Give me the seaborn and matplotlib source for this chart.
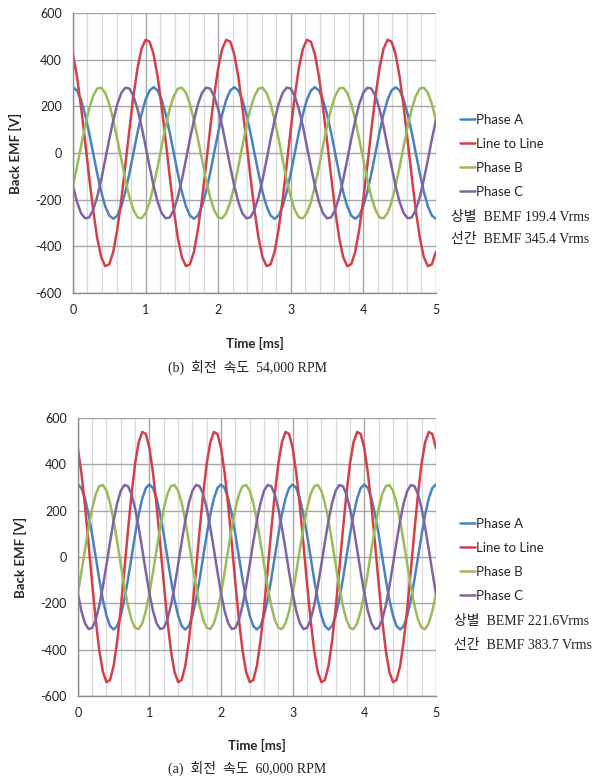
import matplotlib

matplotlib.use("Agg")
import matplotlib.pyplot as plt
import pandas as pd
import seaborn as sns
from matplotlib.ticker import MultipleLocator

# ─────────────────────────────────────────────
# Data
# ─────────────────────────────────────────────

series_names = ["Phase A", "Line to Line", "Phase B", "Phase C"]
series_colors = ["#4a82c0", "#d2404a", "#9bbb59", "#8064a2"]

# (b) 54,000 RPM, sampled every 1/18 ms
time_54k = [
    0.000, 0.056, 0.111, 0.167, 0.222, 0.278, 0.333, 0.389, 0.444, 0.500,
    0.556, 0.611, 0.667, 0.722, 0.778, 0.833, 0.889, 0.944,
    1.000, 1.056, 1.111, 1.167, 1.222, 1.278, 1.333, 1.389, 1.444, 1.500,
    1.556, 1.611, 1.667, 1.722, 1.778, 1.833, 1.889, 1.944,
    2.000, 2.056, 2.111, 2.167, 2.222, 2.278, 2.333, 2.389, 2.444, 2.500,
    2.556, 2.611, 2.667, 2.722, 2.778, 2.833, 2.889, 2.944,
    3.000, 3.056, 3.111, 3.167, 3.222, 3.278, 3.333, 3.389, 3.444, 3.500,
    3.556, 3.611, 3.667, 3.722, 3.778, 3.833, 3.889, 3.944,
    4.000, 4.056, 4.111, 4.167, 4.222, 4.278, 4.333, 4.389, 4.444, 4.500,
    4.556, 4.611, 4.667, 4.722, 4.778, 4.833, 4.889, 4.944,
    5.000,
]
phase_a_54k = [
    282, 268, 228, 166, 87, 0, -87, -166, -228, -268,
    -282, -268, -228, -166, -87, 0, 87, 166, 228, 268,
    282, 268, 228, 166, 87, 0, -87, -166, -228, -268,
    -282, -268, -228, -166, -87, 0, 87, 166, 228, 268,
    282, 268, 228, 166, 87, 0, -87, -166, -228, -268,
    -282, -268, -228, -166, -87, 0, 87, 166, 228, 268,
    282, 268, 228, 166, 87, 0, -87, -166, -228, -268,
    -282, -268, -228, -166, -87, 0, 87, 166, 228, 268,
    282, 268, 228, 166, 87, 0, -87, -166, -228, -268,
    -282,
]
line_54k = [
    423, 327, 198, 51, -101, -244, -363, -446, -485, -477,
    -423, -327, -198, -51, 101, 244, 363, 446, 485, 477,
    423, 327, 198, 51, -101, -244, -363, -446, -485, -477,
    -423, -327, -198, -51, 101, 244, 363, 446, 485, 477,
    423, 327, 198, 51, -101, -244, -363, -446, -485, -477,
    -423, -327, -198, -51, 101, 244, 363, 446, 485, 477,
    423, 327, 198, 51, -101, -244, -363, -446, -485, -477,
    -423, -327, -198, -51, 101, 244, 363, 446, 485, 477,
    423, 327, 198, 51, -101, -244, -363, -446, -485, -477,
    -423,
]
phase_b_54k = [
    -141, -59, 29, 115, 189, 244, 276, 280, 258, 210,
    141, 59, -29, -115, -189, -244, -276, -280, -258, -210,
    -141, -59, 29, 115, 189, 244, 276, 280, 258, 210,
    141, 59, -29, -115, -189, -244, -276, -280, -258, -210,
    -141, -59, 29, 115, 189, 244, 276, 280, 258, 210,
    141, 59, -29, -115, -189, -244, -276, -280, -258, -210,
    -141, -59, 29, 115, 189, 244, 276, 280, 258, 210,
    141, 59, -29, -115, -189, -244, -276, -280, -258, -210,
    -141, -59, 29, 115, 189, 244, 276, 280, 258, 210,
    141,
]
phase_c_54k = [
    -141, -210, -258, -280, -276, -244, -189, -115, -29, 59,
    141, 210, 258, 280, 276, 244, 189, 115, 29, -59,
    -141, -210, -258, -280, -276, -244, -189, -115, -29, 59,
    141, 210, 258, 280, 276, 244, 189, 115, 29, -59,
    -141, -210, -258, -280, -276, -244, -189, -115, -29, 59,
    141, 210, 258, 280, 276, 244, 189, 115, 29, -59,
    -141, -210, -258, -280, -276, -244, -189, -115, -29, 59,
    141, 210, 258, 280, 276, 244, 189, 115, 29, -59,
    -141, -210, -258, -280, -276, -244, -189, -115, -29, 59,
    141,
]

# (a) 60,000 RPM, sampled every 0.05 ms
time_60k = [
    0.00, 0.05, 0.10, 0.15, 0.20, 0.25, 0.30, 0.35, 0.40, 0.45,
    0.50, 0.55, 0.60, 0.65, 0.70, 0.75, 0.80, 0.85, 0.90, 0.95,
    1.00, 1.05, 1.10, 1.15, 1.20, 1.25, 1.30, 1.35, 1.40, 1.45,
    1.50, 1.55, 1.60, 1.65, 1.70, 1.75, 1.80, 1.85, 1.90, 1.95,
    2.00, 2.05, 2.10, 2.15, 2.20, 2.25, 2.30, 2.35, 2.40, 2.45,
    2.50, 2.55, 2.60, 2.65, 2.70, 2.75, 2.80, 2.85, 2.90, 2.95,
    3.00, 3.05, 3.10, 3.15, 3.20, 3.25, 3.30, 3.35, 3.40, 3.45,
    3.50, 3.55, 3.60, 3.65, 3.70, 3.75, 3.80, 3.85, 3.90, 3.95,
    4.00, 4.05, 4.10, 4.15, 4.20, 4.25, 4.30, 4.35, 4.40, 4.45,
    4.50, 4.55, 4.60, 4.65, 4.70, 4.75, 4.80, 4.85, 4.90, 4.95,
    5.00,
]
phase_a_60k = [
    313, 298, 253, 184, 97, 0, -97, -184, -253, -298,
    -313, -298, -253, -184, -97, 0, 97, 184, 253, 298,
    313, 298, 253, 184, 97, 0, -97, -184, -253, -298,
    -313, -298, -253, -184, -97, 0, 97, 184, 253, 298,
    313, 298, 253, 184, 97, 0, -97, -184, -253, -298,
    -313, -298, -253, -184, -97, 0, 97, 184, 253, 298,
    313, 298, 253, 184, 97, 0, -97, -184, -253, -298,
    -313, -298, -253, -184, -97, 0, 97, 184, 253, 298,
    313, 298, 253, 184, 97, 0, -97, -184, -253, -298,
    -313, -298, -253, -184, -97, 0, 97, 184, 253, 298,
    313,
]
line_60k = [
    470, 363, 221, 57, -113, -272, -404, -496, -540, -531,
    -470, -363, -221, -57, 113, 272, 404, 496, 540, 531,
    470, 363, 221, 57, -113, -272, -404, -496, -540, -531,
    -470, -363, -221, -57, 113, 272, 404, 496, 540, 531,
    470, 363, 221, 57, -113, -272, -404, -496, -540, -531,
    -470, -363, -221, -57, 113, 272, 404, 496, 540, 531,
    470, 363, 221, 57, -113, -272, -404, -496, -540, -531,
    -470, -363, -221, -57, 113, 272, 404, 496, 540, 531,
    470, 363, 221, 57, -113, -272, -404, -496, -540, -531,
    -470, -363, -221, -57, 113, 272, 404, 496, 540, 531,
    470,
]
phase_b_60k = [
    -157, -65, 33, 127, 209, 271, 306, 311, 286, 233,
    157, 65, -33, -127, -209, -271, -306, -311, -286, -233,
    -157, -65, 33, 127, 209, 271, 306, 311, 286, 233,
    157, 65, -33, -127, -209, -271, -306, -311, -286, -233,
    -157, -65, 33, 127, 209, 271, 306, 311, 286, 233,
    157, 65, -33, -127, -209, -271, -306, -311, -286, -233,
    -157, -65, 33, 127, 209, 271, 306, 311, 286, 233,
    157, 65, -33, -127, -209, -271, -306, -311, -286, -233,
    -157, -65, 33, 127, 209, 271, 306, 311, 286, 233,
    157, 65, -33, -127, -209, -271, -306, -311, -286, -233,
    -157,
]
phase_c_60k = [
    -157, -233, -286, -311, -306, -271, -209, -127, -33, 65,
    157, 233, 286, 311, 306, 271, 209, 127, 33, -65,
    -157, -233, -286, -311, -306, -271, -209, -127, -33, 65,
    157, 233, 286, 311, 306, 271, 209, 127, 33, -65,
    -157, -233, -286, -311, -306, -271, -209, -127, -33, 65,
    157, 233, 286, 311, 306, 271, 209, 127, 33, -65,
    -157, -233, -286, -311, -306, -271, -209, -127, -33, 65,
    157, 233, 286, 311, 306, 271, 209, 127, 33, -65,
    -157, -233, -286, -311, -306, -271, -209, -127, -33, 65,
    157, 233, 286, 311, 306, 271, 209, 127, 33, -65,
    -157,
]

note_lines_54k = ["상별  BEMF 199.4 Vrms", "선간  BEMF 345.4 Vrms"]
note_lines_60k = ["상별  BEMF 221.6Vrms", "선간  BEMF 383.7 Vrms"]
caption_54k = "(b)  회전  속도  54,000 RPM"
caption_60k = "(a)  회전  속도  60,000 RPM"


def to_long(time, a, line, b, c):
    frames = []
    for name, vals in zip(series_names, [a, line, b, c]):
        frames.append(pd.DataFrame({"time": time, "emf": vals, "series": name}))
    return pd.concat(frames, ignore_index=True)


df_54k = to_long(time_54k, phase_a_54k, line_54k, phase_b_54k, phase_c_54k)
df_60k = to_long(time_60k, phase_a_60k, line_60k, phase_b_60k, phase_c_60k)

# ─────────────────────────────────────────────
# Plot
# ─────────────────────────────────────────────
sns.set_style("white")
plt.rcParams["font.family"] = ["Lato", "DejaVu Sans"]
plt.rcParams["axes.unicode_minus"] = False
serif_kr = ["Liberation Serif", "Noto Sans CJK KR"]
palette = dict(zip(series_names, series_colors))

fig = plt.figure(figsize=(6.08, 7.83), dpi=100)
ax_top = fig.add_axes([0.120, 0.6258, 0.597, 0.3576])
ax_bot = fig.add_axes([0.128, 0.1111, 0.589, 0.3550])


def style_axes(ax, ylabel_x, xlabel_y):
    ax.set_xlim(0, 5)
    ax.set_ylim(-600, 600)
    ax.xaxis.set_major_locator(MultipleLocator(1))
    ax.xaxis.set_minor_locator(MultipleLocator(0.2))
    ax.yaxis.set_major_locator(MultipleLocator(200))
    ax.set_axisbelow(True)
    ax.grid(which="minor", axis="x", color="#d9d9d9", lw=0.9)
    ax.grid(which="major", color="#a6a6a6", lw=1.0)
    for side in ["top", "right"]:
        ax.spines[side].set_visible(False)
    for side in ["left", "bottom"]:
        ax.spines[side].set_color("#8c8c8c")
        ax.spines[side].set_linewidth(1.0)
    ax.tick_params(which="major", length=4, width=1.0, color="#8c8c8c",
                   labelsize=9, labelcolor="#222222", pad=4)
    ax.tick_params(which="minor", length=0)
    ax.set_ylabel("Back EMF [V]", fontsize=9.5, fontweight="bold")
    ax.yaxis.set_label_coords(ylabel_x, 0.5)
    ax.set_xlabel("Time [ms]", fontsize=9.5, fontweight="bold")
    ax.xaxis.set_label_coords(0.5, xlabel_y)


for ax, df, leg_top, notes, note_y, note_x, caption, cap_y, ylx, xly in [
    (ax_top, df_54k, 0.855, note_lines_54k, [217, 240], 451, caption_54k, 367, -0.14, -0.157),
    (ax_bot, df_60k, 0.339, note_lines_60k, [621, 645], 454, caption_60k, 768, -0.142, -0.155),
]:
    sns.lineplot(
        data=df,
        x="time",
        y="emf",
        hue="series",
        hue_order=series_names,
        palette=palette,
        estimator=None,
        sort=False,
        lw=1.8,
        ax=ax,
    )
    style_axes(ax, ylx, xly)
    ax.legend(
        loc="upper left",
        bbox_to_anchor=(460 / 608, leg_top),
        bbox_transform=fig.transFigure,
        frameon=False,
        fontsize=9.5,
        handlelength=1.1,
        handletextpad=0.1,
        labelspacing=0.92,
        borderpad=0,
        borderaxespad=0,
    )
    for text, y in zip(notes, note_y):
        fig.text(note_x / 608, 1 - y / 783, text, family=serif_kr, fontsize=10,
                 va="center", ha="left", color="#222222")
    fig.text(247 / 608, 1 - cap_y / 783, caption, family=serif_kr, fontsize=10,
             va="center", ha="center", color="#222222")

fig.savefig("out.png", dpi=100)
plt.close(fig)
